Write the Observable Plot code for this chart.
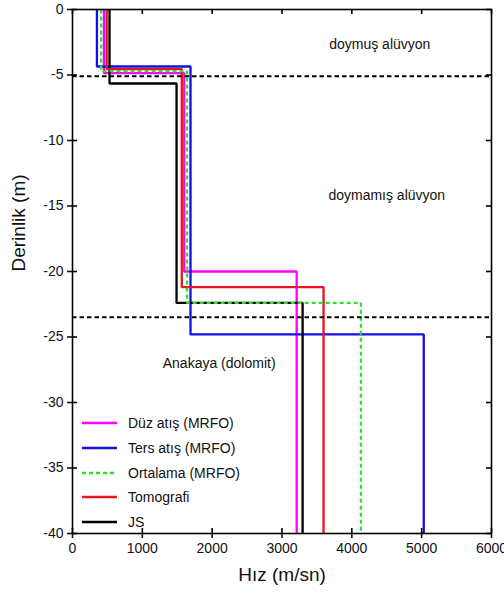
<!DOCTYPE html>
<html>
<head>
<meta charset="utf-8">
<script src="https://cdn.jsdelivr.net/npm/d3@7"></script>
<script src="https://cdn.jsdelivr.net/npm/@observablehq/plot@0.6"></script>
<style>
  html, body { margin: 0; padding: 0; background: white; }
  #wrap { position: relative; width: 504px; height: 597px; font-family: "Liberation Sans", Arial, sans-serif; }
  #legend { position: absolute; left: 82px; top: 411px; font-size: 14px; color: #111; }
  #legend .row { display: flex; align-items: center; height: 24.7px; }
  #legend svg { margin-right: 11px; }
</style>
</head>
<body>
<div id="wrap"></div>
<script>
// Methods
const methods = ["Düz atış (MRFO)", "Ters atış (MRFO)", "Ortalama (MRFO)", "Tomografi", "JS"];
const colors  = ["#ff00ff", "#1010e0", "#33dd33", "#e8141e", "#000000"];
const dashed  = [false, false, true, false, false];
// Layer velocities (m/sn) and interface depths (m)
const v1 = [450, 350, 410, 490, 530];
const z1 = [-4.85, -4.35, -4.7, -4.55, -5.65];
const v2 = [1600, 1690, 1640, 1565, 1490];
const z2 = [-20.0, -24.8, -22.4, -21.2, -22.4];
const v3 = [3210, 5030, 4130, 3595, 3295];
const zBottom = -40;
// Reference boundaries (dashed)
const boundaries = [-5.1, -23.5];
// Annotations
const noteText = ["doymuş alüvyon", "doymamış alüvyon", "Anakaya (dolomit)"];
const noteX = [4400, 4500, 2100];
const noteY = [-2.7, -14.2, -27.0];
// Ticks
const xTicks = [0, 1000, 2000, 3000, 4000, 5000, 6000];
const yTicks = [0, -5, -10, -15, -20, -25, -30, -35, -40];

const W = 504, H = 597, mL = 72, mR = 13, mT = 9, mB = 64;
const fw = W - mL - mR, fh = H - mT - mB;

function profile(i) {
  return [
    {v: v1[i], z: 0}, {v: v1[i], z: z1[i]},
    {v: v2[i], z: z1[i]}, {v: v2[i], z: z2[i]},
    {v: v3[i], z: z2[i]}, {v: v3[i], z: zBottom}
  ];
}
const drawOrder = [0, 1, 4, 3, 2];
const notes = noteText.map((t, i) => ({t, x: noteX[i], y: noteY[i]}));

const chart = Plot.plot({
  width: W, height: H,
  marginLeft: mL, marginRight: mR, marginTop: mT, marginBottom: mB,
  x: {domain: [0, 6000]},
  y: {domain: [-40, 0]},
  style: {fontFamily: "Liberation Sans, Arial, sans-serif", fontSize: "14px", background: "white", color: "#111"},
  marks: [
    ...drawOrder.map(i => Plot.line(profile(i), {
      x: "v", y: "z", stroke: colors[i], strokeWidth: 2.3,
      strokeDasharray: dashed[i] ? "4,3" : null, strokeLinejoin: "miter", strokeLinecap: "butt"
    })),
    Plot.ruleY(boundaries, {y: d => d, stroke: "black", strokeWidth: 2, strokeDasharray: "4.5,3"}),
    Plot.text(notes, {x: "x", y: "y", text: "t", fontSize: 14, fill: "#111"}),
    Plot.frame({stroke: "black", strokeWidth: 1.6}),
    Plot.axisX({ticks: xTicks, tickSize: 5, tickPadding: 5, label: null, tickFormat: d => String(d), fontSize: 14, strokeWidth: 1.6}),
    Plot.axisY({ticks: yTicks, tickSize: 5, tickPadding: 4, label: null, tickFormat: d => String(d), fontSize: 14, strokeWidth: 1.6}),
    Plot.ruleX(xTicks, {x: d => d, insetBottom: fh - 5, stroke: "black", strokeWidth: 1.6}),
    Plot.ruleX(xTicks, {x: d => d, insetTop: fh - 5, stroke: "black", strokeWidth: 1.6}),
    Plot.ruleY(yTicks, {y: d => d, insetLeft: fw - 5, stroke: "black", strokeWidth: 1.6}),
    Plot.ruleY(yTicks, {y: d => d, insetRight: fw - 5, stroke: "black", strokeWidth: 1.6}),
    Plot.text(["Hız (m/sn)"], {frameAnchor: "bottom", dy: 47, fontSize: 19, fill: "#111"}),
    Plot.text(["Derinlik (m)"], {frameAnchor: "left", dx: -54, rotate: -90, fontSize: 19, fill: "#111"})
  ]
});

const wrap = document.getElementById("wrap");
wrap.appendChild(chart);

const legend = document.createElement("div");
legend.id = "legend";
methods.forEach((m, i) => {
  const row = document.createElement("div");
  row.className = "row";
  row.innerHTML = `<svg width="35" height="6"><line x1="0" y1="3" x2="35" y2="3" stroke="${colors[i]}" stroke-width="2.5" ${dashed[i] ? 'stroke-dasharray="4,3"' : ''}/></svg><span>${m}</span>`;
  legend.appendChild(row);
});
wrap.appendChild(legend);
</script>
</body>
</html>
